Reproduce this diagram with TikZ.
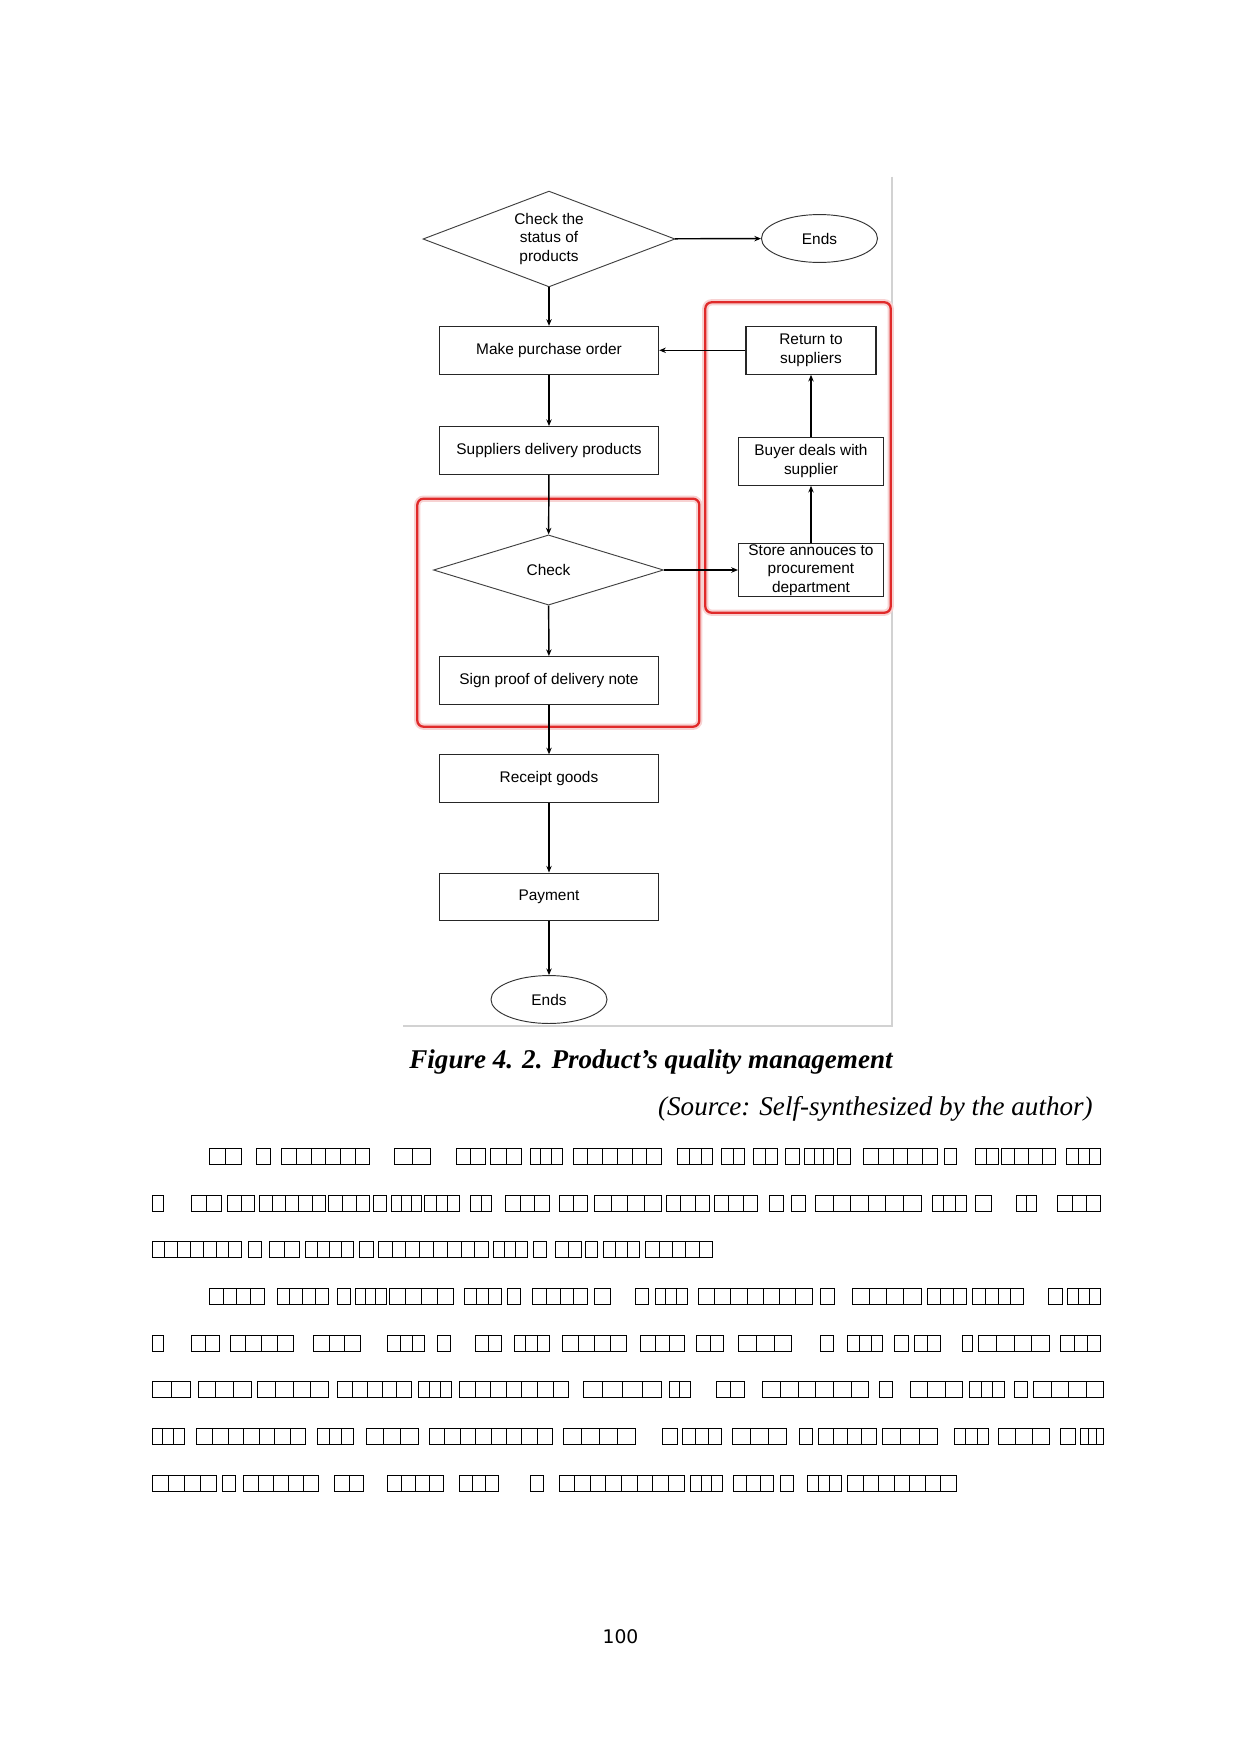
\documentclass[tikz,border=0pt]{standalone}
\usepackage{fontspec}
\setmainfont{Liberation Serif}
\newfontfamily\arialfont{Liberation Sans}
\newfontfamily\pagefont{DejaVu Sans}
\usepackage{tikz}
\usetikzlibrary{arrows.meta,shapes.geometric}
\definecolor{boxred}{HTML}{E02A2A}
\definecolor{glowred}{HTML}{F7D2D2}
\definecolor{framegray}{HTML}{D2D2D2}
\newcommand{\flowfont}{\arialfont\fontsize{7.4pt}{9pt}\selectfont}
\tikzset{
  procbox/.style={draw=black!85, line width=0.5pt, minimum width=105.3pt, minimum height=23pt, inner sep=1pt, font=\flowfont, align=center},
  sidebox/.style={procbox, minimum width=69.6pt},
  decide/.style={diamond, draw=black!75, line width=0.45pt, inner sep=0pt, aspect=2.6, font=\flowfont, align=center},
  terminal/.style={ellipse, draw=black!80, line width=0.45pt, minimum width=55.7pt, minimum height=23pt, inner sep=0pt, font=\flowfont},
  flow/.style={-{Stealth[length=3.2pt,width=2.6pt]}, line width=0.7pt},
  redbox/.style={draw=boxred, line width=1.1pt, rounded corners=3pt},
  tofu/.style={draw, line width=0.45pt}
}
% one line of unreadable glyph boxes: start/end/count
\newcommand{\tofuline}[2]{%
  \foreach \ta/\tb/\tn in {#2}{%
    \pgfmathsetmacro\bw{(\tb-\ta)/\tn}%
    \foreach \k in {1,...,\tn}
      \draw[tofu] ({\ta+(\k-1)*\bw},#1) rectangle ++(\bw,16);
  }}

\begin{document}
\begin{tikzpicture}[x=0.48pt,y=-0.48pt]
  \useasboundingbox (0,0) rectangle (1240,1754);

  % image frame
  \draw[framegray, line width=1pt] (891.7,176.7) -- (891.7,1026) -- (403,1026);

  % red highlight boxes
  \draw[glowred, line width=3pt, rounded corners=3pt] (705.3,302.3) rectangle (890.7,612.7);
  \draw[glowred, line width=3pt, rounded corners=3pt] (417.3,498.7) rectangle (699.3,726.7);
  \draw[redbox] (705.3,302.3) rectangle (890.7,612.7);
  \draw[redbox] (417.3,498.7) rectangle (699.3,726.7);

  % main column
  \node[decide, minimum width=121pt, minimum height=46pt] (status) at (549,239) {Check the\\status of\\products};
  \node[terminal] (endtop) at (819.5,238.5) {Ends};
  \node[procbox] (order) at (549,350.3) {Make purchase order};
  \node[procbox] (deliver) at (549,450.5) {Suppliers delivery products};
  \node[decide, minimum width=110.4pt, minimum height=33.7pt] (check) at (548.5,570) {Check};
  \node[procbox] (sign) at (549,680.5) {Sign proof of delivery note};
  \node[procbox] (receipt) at (549,778.8) {Receipt goods};
  \node[procbox] (payment) at (549,897) {Payment};
  \node[terminal] (endbot) at (549,999.5) {Ends};

  % return branch
  \node[sidebox, minimum width=62.4pt] (return) at (811,350.3) {Return to\\suppliers};
  \node[sidebox] (buyer) at (811,461.3) {Buyer deals with\\supplier};
  \node[sidebox, minimum height=25.2pt, inner sep=0pt] (store) at (811,570) {Store annouces to\\procurement\\department};

  \draw[flow] (status) -- (order);
  \draw[flow] (status) -- (endtop);
  \draw[flow] (order) -- (deliver);
  \draw[flow] (deliver) -- (check);
  \draw[flow] (check) -- (sign);
  \draw[flow] (sign) -- (receipt);
  \draw[flow] (receipt) -- (payment);
  \draw[flow] (payment) -- (endbot);
  \draw[flow] (check) -- (store);
  \draw[flow] (store) -- (buyer);
  \draw[flow] (buyer) -- (return);
  \draw[flow] (return) -- (order);

  % caption
  \node[font=\fontsize{13pt}{15pt}\selectfont\bfseries\itshape] (caption) at (651,1062) {Figure 4. 2. Product\symbol{"27}s quality management};
  \node[font=\fontsize{13pt}{15pt}\selectfont\itshape, anchor=east] (source) at (1100,1109) {(Source: Self-synthesized by the author)};

  % body text (glyph boxes)
  \begin{scope}[shift={(139.18,0)}, xscale=0.641]
    \tofuline{1148.3}{110/160/2,183/205/1,222/360/6,398/455/2,495/540/2,548/597/2,610/660/3,677/815/6,840/895/3,908/945/2,958/995/2,1008/1030/1,1038/1083/3,1090/1110/1,1130/1245/5,1257/1275/1,1305/1340/2,1345/1430/4,1447/1500/3}
    \tofuline{1195.0}{20/38/1,82/128/2,138/180/2,188/290/5,295/360/3,365/385/1,393/440/3,445/500/3,517/550/2,572/640/3,655/700/2,710/815/4,822/890/3,897/965/3,983/1005/1,1018/1040/1,1055/1220/6,1238/1290/3,1305/1330/1,1368/1400/2,1433/1500/3}
    \tofuline{1241.7}{20/160/7,170/190/1,203/250/2,260/335/4,343/365/1,373/545/8,553/605/3,615/635/1,650/690/2,697/715/1,725/780/3,790/895/5}
    \tofuline{1288.4}{110/195/4,215/295/4,310/330/1,338/385/3,390/490/4,507/565/3,575/595/1,613/700/4,710/735/1,775/795/1,805/855/3,872/1050/7,1063/1085/1,1112/1220/4,1230/1290/3,1300/1380/4,1418/1440/1,1448/1500/3}
    \tofuline{1335.1}{20/38/1,82/125/2,142/240/4,272/345/3,388/445/3,465/485/1,525/565/2,585/640/3,660/760/4,782/850/3,870/912/2,935/1018/3,1063/1083/1,1105/1160/3,1178/1200/1,1210/1250/2,1285/1300/1,1310/1420/4,1438/1500/3}
    \tofuline{1381.8}{20/80/2,92/175/3,185/295/4,310/425/5,435/487/3,500/670/7,693/815/4,827/860/2,900/945/2,973/1138/6,1155/1175/1,1203/1285/3,1295/1350/3,1365/1385/1,1395/1505/4}
    \tofuline{1428.5}{20/70/3,90/260/7,278/335/3,355/435/3,453/645/8,662/775/4,817/840/1,848/908/3,925/1010/3,1030/1050/1,1060/1150/4,1160/1245/3,1272/1325/3,1340/1420/3,1438/1460/1,1468/1505/3}
    \tofuline{1475.2}{20/120/4,130/150/1,163/280/5,305/350/2,387/475/4,500/560/3,610/630/1,655/850/8,860/910/3,927/990/3,1000/1020/1,1042/1095/3,1105/1275/7}
  \end{scope}

  \node[font=\pagefont\fontsize{9pt}{11pt}\selectfont] (pagenum) at (620.5,1637) {100};
\end{tikzpicture}
\end{document}
